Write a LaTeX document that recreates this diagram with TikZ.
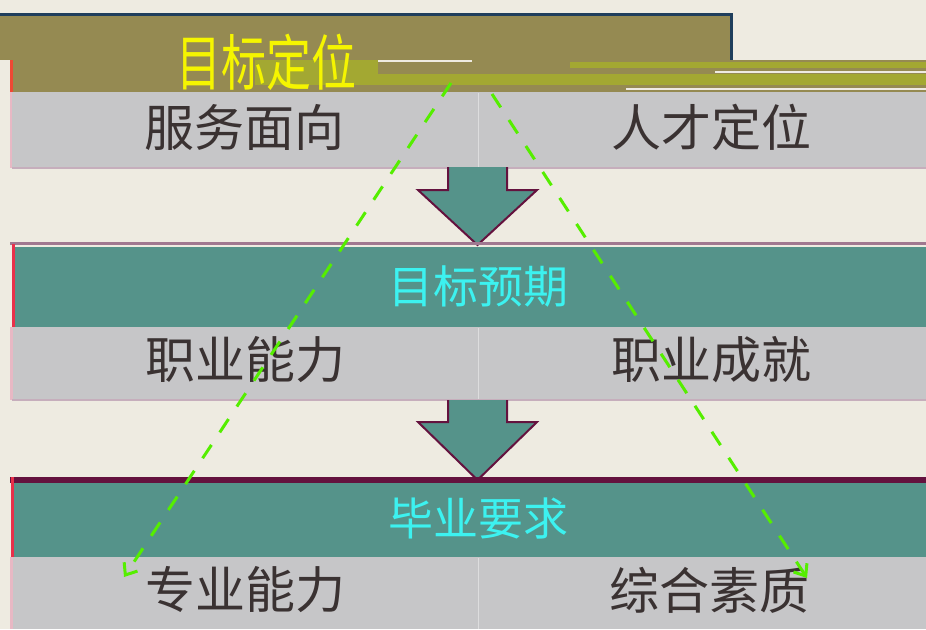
\documentclass[tikz,border=0pt]{standalone}
\usepackage{fontspec}
\setmainfont{Noto Sans CJK SC}
\usetikzlibrary{arrows.meta}
\definecolor{bgc}{HTML}{EEEBE1}
\definecolor{olive}{HTML}{958A52}
\definecolor{olivelt}{HTML}{A3A832}
\definecolor{navy}{HTML}{1F3E5C}
\definecolor{greyrow}{HTML}{C6C6C8}
\definecolor{tealc}{HTML}{55938A}
\definecolor{maroon}{HTML}{64123E}
\definecolor{mauve}{HTML}{A07890}
\definecolor{redl}{HTML}{E8304A}
\definecolor{pinkl}{HTML}{E8B8C4}
\definecolor{cyant}{HTML}{3CF2F0}
\definecolor{yellowt}{HTML}{F5F500}
\definecolor{greent}{HTML}{55EE00}
\definecolor{darktext}{HTML}{3A3232}
\tikzset{
  rowbox/.style={fill=greyrow, inner sep=0pt, minimum width=914pt, anchor=north west},
  bandbox/.style={fill=tealc, inner sep=0pt, minimum width=914pt, anchor=north west},
  rowtext/.style={text=darktext, font=\fontsize{50}{50}\selectfont, inner sep=0pt},
  bandtext/.style={text=cyant, font=\fontsize{45}{45}\selectfont, inner sep=0pt},
  blockarrow/.style={fill=tealc, draw=maroon, line width=2pt, line join=miter},
  divider/.style={draw=white!40!greyrow, line width=0.8pt},
  guide/.style={draw=greent, line width=3pt, dash pattern=on 16pt off 15pt, -{Straight Barb[length=10pt,width=16pt,line width=3pt]}}
}
\begin{document}
\begin{tikzpicture}[x=1pt,y=-1pt]
\useasboundingbox (0,0) rectangle (926,629);
\fill[bgc] (0,0) rectangle (926,629);
% top olive header (glitched)
\fill[olive] (0,13) rectangle (732,60);
\draw[navy, line width=3pt] (0,14.5) -- (731,14.5) -- (731,60);
\fill[olive] (12,60) rectangle (926,92);
\fill[olivelt] (255,60) rectangle (378,85);
\fill[olivelt] (378,74) rectangle (926,85);
\fill[olivelt] (570,62) rectangle (926,68);
\fill[bgc] (378,59.5) rectangle (472,61.5);
\fill[bgc] (715,70.5) rectangle (926,72.5);
\fill[bgc] (626,87.5) rectangle (926,89.5);
\fill[redl!70!orange] (10,60) rectangle (12.5,92);
\node[text=yellowt, font=\fontsize{45}{45}\selectfont, inner sep=0pt, yscale=1.35] (title) at (266,62) {目标定位};
% row 1
\node[rowbox, minimum height=76pt] (row1) at (12,92) {};
\draw[pinkl, line width=2pt] (11,92) -- (11,168);
\draw[mauve!60, line width=2pt] (12,168) -- (926,168);
\draw[divider] (478,93) -- (478,167);
% arrow 1
\draw[blockarrow] (448,167) -- (448,190) -- (418,190) -- (477.5,245) -- (537,190) -- (507,190) -- (507,167);
% band 2
\draw[mauve, line width=3pt] (10,243) -- (926,243);
\node[bandbox, minimum height=80pt] (band2) at (12,247) {};
\draw[redl, line width=3pt] (13.5,244) -- (13.5,327);
% row 2
\node[rowbox, minimum height=73pt] (row2) at (12,327) {};
\draw[pinkl, line width=3pt] (11.5,327) -- (11.5,400);
\draw[mauve!60, line width=2pt] (12,400) -- (926,400);
\draw[divider] (478,328) -- (478,399);
% arrow 2
\draw[blockarrow] (448,400) -- (448,422) -- (418,422) -- (477.5,480) -- (537,422) -- (507,422) -- (507,400);
% band 3
\fill[maroon] (10,477) rectangle (926,483);
\node[bandbox, minimum height=74pt] (band3) at (12,483) {};
\draw[redl, line width=3pt] (12,477) -- (12,557);
% row 3
\node[rowbox, minimum height=72pt] (row3) at (12,557) {};
\draw[pinkl, line width=3pt] (11.5,557) -- (11.5,629);
\draw[divider] (478,558) -- (478,629);
% texts
\node[rowtext] (t11) at (244,127) {服务面向};
\node[rowtext] (t12) at (711,127) {人才定位};
\node[bandtext] (b2) at (478,286) {目标预期};
\node[rowtext] (t21) at (245,360) {职业能力};
\node[rowtext] (t22) at (711,360) {职业成就};
\node[bandtext] (b3) at (478,518) {毕业要求};
\node[rowtext] (t31) at (245,590) {专业能力};
\node[rowtext] (t32) at (709,590) {综合素质};
% dashed guide lines
\coordinate (gl) at (451,83);
\coordinate (gr) at (492,94);
\coordinate (el) at (124,577);
\coordinate (er) at (807,578);
\draw[guide] (gl) -- (el);
\draw[guide] (gr) -- (er);
\end{tikzpicture}
\end{document}
